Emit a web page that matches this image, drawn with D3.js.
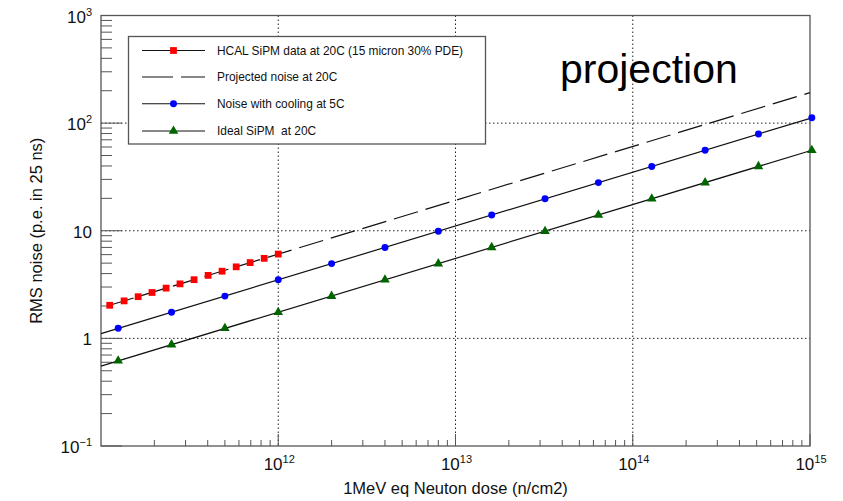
<!DOCTYPE html>
<html>
<head>
<meta charset="utf-8">
<script src="https://cdn.jsdelivr.net/npm/d3@7"></script>
<style>
  body { margin: 0; background: #fff; }
  text { font-family: "Liberation Sans", Arial, sans-serif; }
</style>
</head>
<body>
<svg id="chart" width="843" height="501"></svg>
<script>
// HCAL SiPM measured points (dose, noise)
var hcalDose = [1.12e11, 1.35e11, 1.62e11, 1.94e11, 2.33e11, 2.79e11, 3.35e11,
                4.02e11, 4.82e11, 5.79e11, 6.94e11, 8.33e11, 1e12];
var hcalNoise = [2.03, 2.23, 2.44, 2.67, 2.93, 3.21, 3.51, 3.85, 4.21, 4.62, 5.06, 5.54, 6.07];

// projected noise line at 20C (end points)
var projDose = [1.12e11, 1e15];
var projNoise = [2.03, 192];

// cooled and ideal points share the same doses
var coolDose = [1.25e11, 2.5e11, 5e11, 1e12, 2e12, 4e12, 8e12, 1.6e13, 3.2e13,
                6.4e13, 1.28e14, 2.56e14, 5.12e14, 1.024e15];
var coolNoise = [1.24, 1.75, 2.47, 3.5, 4.95, 7.0, 9.9, 14.0, 19.8, 28.0, 39.6, 56, 79.2, 112];
var idealNoise = [0.62, 0.875, 1.24, 1.75, 2.47, 3.5, 4.95, 7.0, 9.9, 14.0, 19.8, 28.0, 39.6, 56];

// fit lines span the whole x range
var lineDose = [1e11, 1.024e15];
var coolLine = [1.107, 112];
var idealLine = [0.553, 56];

var xMajor = [1e12, 1e13, 1e14, 1e15];
var xMajorExp = ["12", "13", "14", "15"];
var yMajor = [0.1, 1, 10, 100, 1000];
var yMajorLabel = [["10", "\u22121"], ["1", ""], ["10", ""], ["10", "2"], ["10", "3"]];

var legendLabels = ["HCAL SiPM data at 20C (15 micron 30% PDE)", "Projected noise at 20C",
                    "Noise with cooling at 5C", "Ideal SiPM  at 20C"];

var svg = d3.select("#chart");
var L = 101, R = 810, T = 15.5, B = 446;

var x = d3.scaleLog().domain([1e11, 1e15]).range([L, R]);
var y = d3.scaleLog().domain([0.1, 1000]).range([B, T]);

var frameCol = "#555";

// minor ticks
var xMinor = [], yMinor = [];
for (var e = 11; e < 15; e++) for (var m = 2; m <= 9; m++) xMinor.push(m * Math.pow(10, e));
for (var e2 = -1; e2 < 3; e2++) for (var m2 = 2; m2 <= 9; m2++) yMinor.push(m2 * Math.pow(10, e2));

// grid (dotted)
var grid = svg.append("g").attr("stroke", "#222").attr("stroke-width", 1)
  .attr("stroke-dasharray", "1.5,2.5");
grid.selectAll("line.gx").data([1e12, 1e13, 1e14]).enter().append("line")
  .attr("x1", function(d) { return x(d); }).attr("x2", function(d) { return x(d); })
  .attr("y1", T).attr("y2", B);
grid.selectAll("line.gy").data([1, 10, 100]).enter().append("line")
  .attr("y1", function(d) { return y(d); }).attr("y2", function(d) { return y(d); })
  .attr("x1", L).attr("x2", R);

// ticks
var ticks = svg.append("g").attr("stroke", frameCol).attr("stroke-width", 1);
ticks.selectAll("line.xm").data(xMinor).enter().append("line")
  .attr("x1", function(d) { return x(d); }).attr("x2", function(d) { return x(d); })
  .attr("y1", B).attr("y2", B - 6);
ticks.selectAll("line.xM").data(xMajor).enter().append("line")
  .attr("x1", function(d) { return x(d); }).attr("x2", function(d) { return x(d); })
  .attr("y1", B).attr("y2", B - 12);
ticks.selectAll("line.ym").data(yMinor).enter().append("line")
  .attr("y1", function(d) { return y(d); }).attr("y2", function(d) { return y(d); })
  .attr("x1", L).attr("x2", L + 11);
ticks.selectAll("line.yM").data(yMajor).enter().append("line")
  .attr("y1", function(d) { return y(d); }).attr("y2", function(d) { return y(d); })
  .attr("x1", L).attr("x2", L + 21);

// frame
svg.append("rect").attr("x", L).attr("y", T).attr("width", R - L).attr("height", B - T)
  .attr("fill", "none").attr("stroke", frameCol).attr("stroke-width", 1.3);

// lines
var line = d3.line().x(function(d) { return x(d[0]); }).y(function(d) { return y(d[1]); });
var plot = svg.append("g");
plot.append("path").datum(d3.zip(projDose, projNoise)).attr("d", line)
  .attr("fill", "none").attr("stroke", "#111").attr("stroke-width", 1.2)
  .attr("stroke-dasharray", "25,8");
plot.append("path").datum(d3.zip(lineDose, coolLine)).attr("d", line)
  .attr("fill", "none").attr("stroke", "#111").attr("stroke-width", 1.2);
plot.append("path").datum(d3.zip(lineDose, idealLine)).attr("d", line)
  .attr("fill", "none").attr("stroke", "#111").attr("stroke-width", 1.2);

var sq = d3.symbol().type(d3.symbolSquare).size(46);
var ci = d3.symbol().type(d3.symbolCircle).size(38);
var tr = d3.symbol().type(d3.symbolTriangle).size(40);

plot.selectAll("path.hcal").data(d3.zip(hcalDose, hcalNoise)).enter().append("path")
  .attr("d", sq).attr("fill", "#f00")
  .attr("transform", function(d) { return "translate(" + x(d[0]) + "," + y(d[1]) + ")"; });
plot.selectAll("path.cool").data(d3.zip(coolDose, coolNoise)).enter().append("path")
  .attr("d", ci).attr("fill", "#00f")
  .attr("transform", function(d) { return "translate(" + x(d[0]) + "," + y(d[1]) + ")"; });
plot.selectAll("path.ideal").data(d3.zip(coolDose, idealNoise)).enter().append("path")
  .attr("d", tr).attr("fill", "#006400")
  .attr("transform", function(d) { return "translate(" + x(d[0]) + "," + y(d[1]) + ")"; });

// y tick labels
var yl = svg.append("g").attr("font-size", 17).attr("fill", "#111");
yMajor.forEach(function(v, i) {
  var lab = yMajorLabel[i];
  var t = yl.append("text").attr("x", 92).attr("y", y(v) + 7).attr("text-anchor", "end");
  t.append("tspan").text(lab[0]);
  if (lab[1]) t.append("tspan").attr("font-size", 11).attr("dy", -7).text(lab[1]);
});

// x tick labels
xMajor.forEach(function(v, i) {
  var t = svg.append("text").attr("x", x(v) + 1).attr("y", 470).attr("text-anchor", "middle")
    .attr("font-size", 17).attr("fill", "#111");
  t.append("tspan").text("10");
  t.append("tspan").attr("font-size", 11).attr("dy", -7).text(xMajorExp[i]);
});

// axis titles
svg.append("text").attr("x", (L + R) / 2).attr("y", 494).attr("text-anchor", "middle")
  .attr("font-size", 16.5).attr("fill", "#111").text("1MeV eq Neuton dose (n/cm2)");
svg.append("text").attr("transform", "translate(42," + ((T + B) / 2) + ") rotate(-90)")
  .attr("text-anchor", "middle").attr("font-size", 16.5).attr("fill", "#111")
  .text("RMS noise (p.e. in 25 ns)");

// annotation
svg.append("text").attr("x", 560).attr("y", 83).attr("font-size", 41).attr("fill", "#000")
  .text("projection");

// legend
var lg = svg.append("g");
lg.append("rect").attr("x", 128.5).attr("y", 36.5).attr("width", 357).attr("height", 107.5)
  .attr("fill", "#fff").attr("stroke", "#555").attr("stroke-width", 1.3);
var rowY = [50.5, 77, 103.7, 131];
legendLabels.forEach(function(s, i) {
  var g = lg.append("g").attr("transform", "translate(0," + rowY[i] + ")");
  g.append("line").attr("x1", 142).attr("x2", 205).attr("stroke", "#111").attr("stroke-width", 1.1)
    .attr("stroke-dasharray", i === 1 ? "31,8" : null);
  if (i === 0) g.append("path").attr("d", sq).attr("fill", "#f00").attr("transform", "translate(173.5,0)");
  if (i === 2) g.append("path").attr("d", ci).attr("fill", "#00f").attr("transform", "translate(173.5,0)");
  if (i === 3) g.append("path").attr("d", tr).attr("fill", "#006400").attr("transform", "translate(173.5,0)");
  g.append("text").attr("x", 217).attr("y", 4).attr("font-size", 11.9).attr("fill", "#111")
    .attr("xml:space", "preserve").style("white-space", "pre").text(s);
});
</script>
</body>
</html>
